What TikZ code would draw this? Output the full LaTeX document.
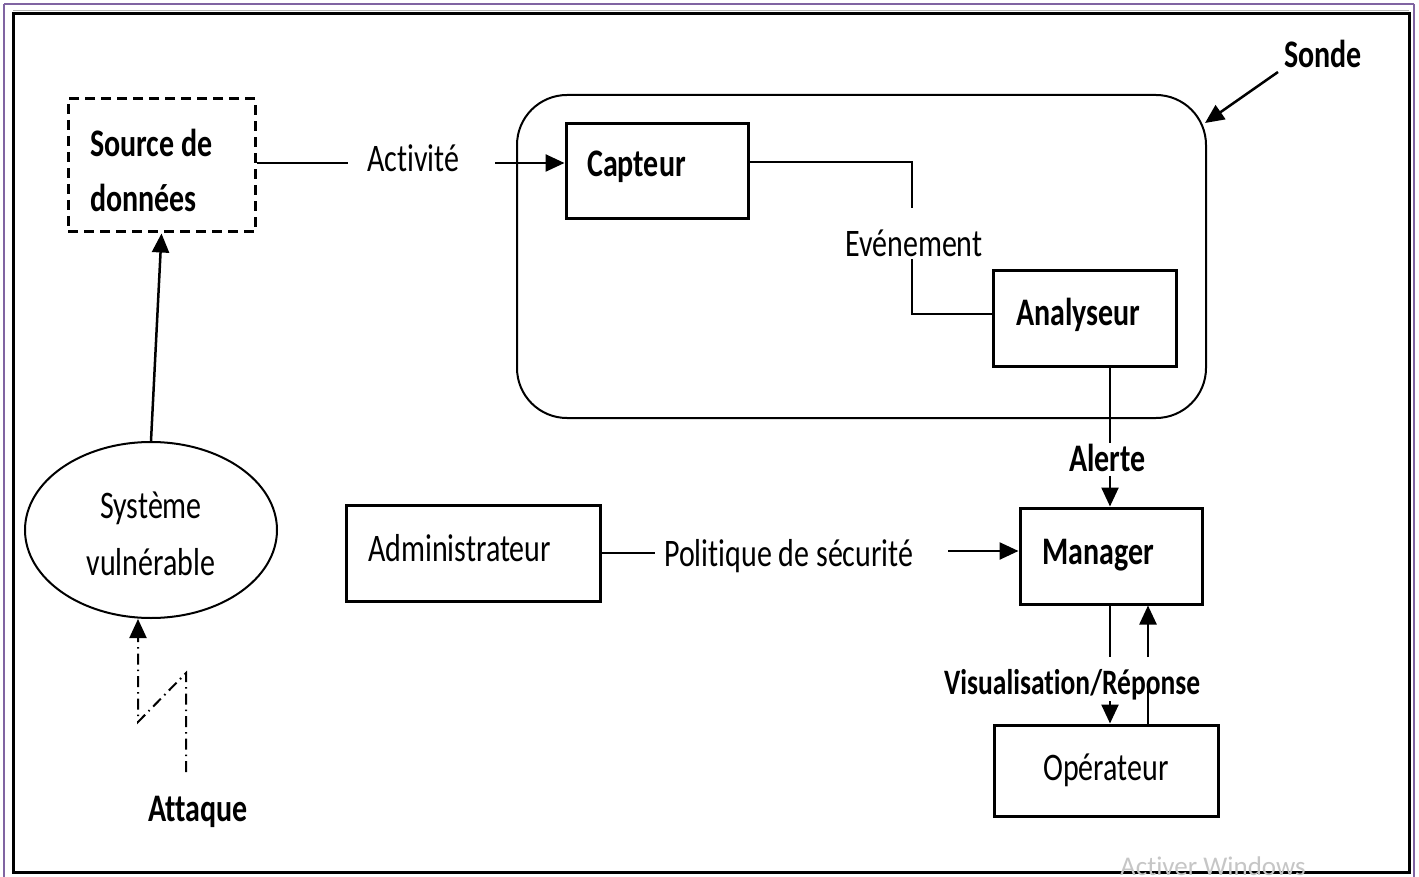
\documentclass[tikz,border=0pt]{standalone}
\usepackage{fontspec}
\setmainfont[Ligatures={NoCommon,NoRare,NoContextual}]{Carlito}
\usetikzlibrary{arrows.meta,shapes.geometric,calc}
% Carlito set slightly tall, as in the document this comes from
\newcommand{\tall}[1]{\scalebox{1}[1.3]{#1}}
\definecolor{framepurple}{RGB}{128,100,162}
\begin{document}
\begin{tikzpicture}[x=1pt,y=-1pt,
  txt/.style={inner sep=0pt, anchor=base west, font=\fontsize{30}{36}\selectfont},
  btxt/.style={txt, font=\fontsize{30}{36}\selectfont\bfseries},
  box/.style={draw, line width=3pt, inner sep=0pt},
  conn/.style={line width=2.5pt},
  arr/.style={line width=2.5pt, -{Triangle[length=19pt,width=17pt]}},
  dashdot/.style={line width=2pt, dash pattern=on 11pt off 5pt on 1.5pt off 5pt}]
\useasboundingbox (0,0) rectangle (1419,877);
\fill[white] (0,0) rectangle (1419,877);

% frames
\draw[framepurple, line width=2pt] (4,4) -- (1414,4);
\draw[framepurple, line width=2pt] (4,4) -- (4,880);
\draw[framepurple, line width=2pt] (1414,4) -- (1414,880);
\draw[gray!60, line width=1pt] (13,10.5) -- (1409,10.5);
\draw[line width=3pt] (13,14) rectangle (1409,872);

% probe enclosure
\node[draw, rounded corners=50pt, line width=2pt, inner sep=0pt,
      minimum width=689pt, minimum height=323pt] (sonde) at (861.5,256.5) {};
\node[btxt] (sondelbl) at (1284,68) {\tall{Sonde}};
\coordinate (sondetail) at (1278,72);
\coordinate (sondetip) at (1205,123);
\draw[arr] (sondetail) -- (sondetip);

% data source
\node[box, dash pattern=on 10pt off 6pt, minimum width=187pt, minimum height=133pt]
  (source) at (161.5,165.5) {};
\node[btxt] (src1) at (90,157) {\tall{Source de}};
\node[btxt] (src2) at (90,212) {\tall{données}};

% sensor
\node[box, minimum width=182pt, minimum height=95pt] (capteur) at (657,171.5) {};
\node[btxt] (captxt) at (587,177) {\tall{Capteur}};

% analyser
\node[box, minimum width=183pt, minimum height=95pt] (analyseur) at (1084.5,318.5) {};
\node[btxt] (analtxt) at (1016,326) {\tall{Analyseur}};

% manager
\node[box, minimum width=182pt, minimum height=96pt] (manager) at (1111,556) {};
\node[btxt] (mantxt) at (1042,564) {\tall{Manager}};

% administrator
\node[box, minimum width=254pt, minimum height=96pt] (admin) at (473,553) {};
\node[txt] (admtxt) at (368,561) {\tall{Administrateur}};

% operator
\node[box, minimum width=224pt, minimum height=91pt] (operateur) at (1106,770.5) {};
\node[txt] (optxt) at (1043,780) {\tall{Opérateur}};

% vulnerable system
\node[ellipse, draw, line width=2pt, inner sep=0pt,
      minimum width=252pt, minimum height=176pt] (sys) at (151,530) {};
\node[txt, anchor=base] (sys1) at (151,518) {\tall{Système}};
\node[txt, anchor=base] (sys2) at (151,575) {\tall{vulnérable}};

% flow labels
\node[txt] (activite) at (367,172) {\tall{Activité}};
\node[txt] (evenement) at (845,257) {\tall{Evénement}};
\node[btxt] (alerte) at (1069,471) {\tall{Alerte}};
\node[txt] (politique) at (664,566) {\tall{Politique de sécurité}};
\node[txt, font=\fontsize{27.5}{33}\selectfont\bfseries] (visu) at (944,694) {\tall{Visualisation/Réponse}};
\node[btxt] (attaque) at (148,821) {\tall{Attaque}};

% activity: source -> sensor
\coordinate (actl) at (348,163);
\coordinate (actr) at (495,163);
\draw[conn] (source.east |- actl) -- (actl);
\draw[arr] (actr) -- (capteur.west |- actr);

% event: sensor -> analyser
\coordinate (ev1) at (912,162);
\coordinate (ev2) at (912,208);
\coordinate (ev3) at (912,259);
\coordinate (ev4) at (912,314);
\draw[conn] (capteur.east |- ev1) -- (ev1) -- (ev2);
\draw[conn] (ev3) -- (ev4) -- (analyseur.west |- ev4);

% alert: analyser -> manager
\coordinate (al1) at (1110,443);
\coordinate (al2) at (1110,476);
\draw[line width=1.6pt] (analyseur.south -| al1) -- (al1);
\draw[arr] (al2) -- (manager.north -| al2);

% security policy: administrator -> manager
\coordinate (pol1) at (655,553);
\coordinate (pol2) at (948,551);
\draw[conn] (admin.east) -- (pol1);
\draw[arr] (pol2) -- (manager.west |- pol2);

% display / response between manager and operator
\coordinate (vd1) at (1110,657);
\coordinate (vd2) at (1110,701);
\coordinate (vu1) at (1148,688);
\coordinate (vu2) at (1148,657);
\draw[conn] (manager.south -| vd1) -- (vd1);
\draw[arr] (vd2) -- (operateur.north -| vd2);
\draw[conn] (operateur.north -| vu1) -- (vu1);
\draw[arr] (vu2) -- (manager.south -| vu2);

% vulnerable system -> data source
\draw[arr] (sys.north) -- (source.south);

% attack zigzag
\coordinate (at1) at (186,772);
\coordinate (at2) at (186,673);
\coordinate (at3) at (138,722);
\draw[dashdot, -{Triangle[length=19pt,width=17pt]}]
  (at1) -- (at2) -- (at3) -- (sys.south -| at3);

% system watermark
\node[txt, font=\fontsize{27}{32}\selectfont, text=gray!45] (wm) at (1120,875) {Activer Windows};
\end{tikzpicture}
\end{document}
